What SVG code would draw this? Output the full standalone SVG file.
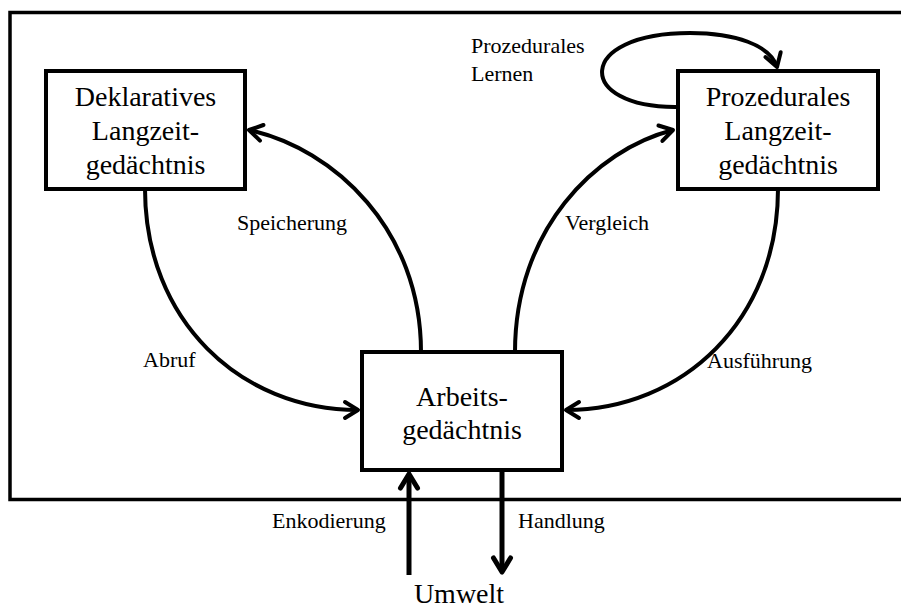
<svg xmlns="http://www.w3.org/2000/svg" width="901" height="611" viewBox="0 0 901 611">
<style>
  .box { fill: #fff; stroke: #000; stroke-width: 4; }
  .frame { fill: none; stroke: #000; stroke-width: 3.5; }
  .node { font-family: "Liberation Serif", "Times New Roman", serif; font-size: 28px; fill: #000; text-anchor: middle; }
  .lbl { font-family: "Liberation Serif", "Times New Roman", serif; font-size: 22px; fill: #000; }
  .conn { fill: none; stroke: #000; stroke-width: 4; stroke-linecap: butt; }
  .thick { stroke-width: 5; }
</style>
<defs>
  <marker id="arr" markerUnits="userSpaceOnUse" markerWidth="30" markerHeight="30" viewBox="-20 -15 30 30" refX="0" refY="0" orient="auto">
    <path d="M-13,-8 L0,0 L-13,8" fill="none" stroke="#000" stroke-width="4" stroke-linejoin="round" stroke-linecap="round"/>
  </marker>
  <marker id="arrb" markerUnits="userSpaceOnUse" markerWidth="30" markerHeight="30" viewBox="-20 -15 30 30" refX="0" refY="0" orient="auto">
    <path d="M-14,-8.5 L0,0 L-14,8.5" fill="none" stroke="#000" stroke-width="5" stroke-linejoin="round" stroke-linecap="round"/>
  </marker>
</defs>

<path class="frame" d="M905,12.5 L10,12.5 L10,499.5 L905,499.5"/>

<g id="connectors">
  <path class="conn" d="M421,352 C421,230 335,149 249,130" marker-end="url(#arr)"/>
  <path class="conn" d="M145,189 C145,320 240,410 358,410" marker-end="url(#arr)"/>
  <path class="conn" d="M515,352 C515,230 595,150 673,130" marker-end="url(#arr)"/>
  <path class="conn" d="M778,189 C778,320 683,410 566,410" marker-end="url(#arr)"/>
  <path class="conn" d="M677,107 C575,108 575,33 690,33 C735,33 770,45 777,67" marker-end="url(#arr)"/>
  <path class="conn thick" d="M409,575 L409,474" marker-end="url(#arrb)"/>
  <path class="conn thick" d="M502,470 L502,572" marker-end="url(#arrb)"/>
</g>

<g id="deklaratives">
  <rect class="box" x="46" y="71" width="199" height="118"/>
  <text class="node" x="145.5" y="106">Deklaratives</text>
  <text class="node" x="145.5" y="140">Langzeit-</text>
  <text class="node" x="145.5" y="174">gedächtnis</text>
</g>

<g id="prozedurales">
  <rect class="box" x="678" y="71" width="200" height="118"/>
  <text class="node" x="778" y="106">Prozedurales</text>
  <text class="node" x="778" y="140">Langzeit-</text>
  <text class="node" x="778" y="174">gedächtnis</text>
</g>

<g id="arbeits">
  <rect class="box" x="362" y="352" width="200" height="118"/>
  <text class="node" x="462" y="406">Arbeits-</text>
  <text class="node" x="462" y="439">gedächtnis</text>
</g>

<g id="umwelt">
  <text class="node" x="459" y="603">Umwelt</text>
</g>

<g id="labels">
  <text class="lbl" x="237" y="230">Speicherung</text>
  <text class="lbl" x="565" y="230">Vergleich</text>
  <text class="lbl" x="143" y="367">Abruf</text>
  <text class="lbl" x="707" y="368">Ausführung</text>
  <text class="lbl" x="272" y="528">Enkodierung</text>
  <text class="lbl" x="518" y="528">Handlung</text>
  <text class="lbl" x="471" y="53">Prozedurales</text>
  <text class="lbl" x="471" y="81">Lernen</text>
</g>
</svg>
